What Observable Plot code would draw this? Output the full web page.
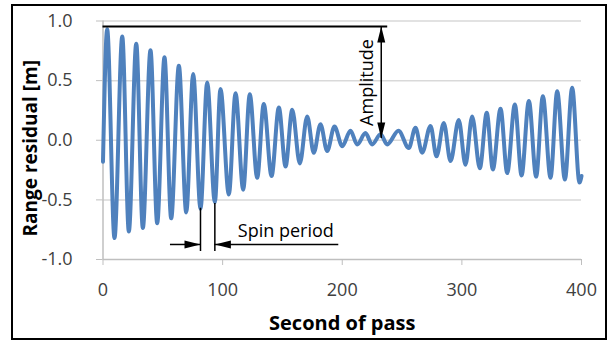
<!DOCTYPE html>
<html><head><meta charset="utf-8">
<script src="https://cdn.jsdelivr.net/npm/d3@7"></script>
<script src="https://cdn.jsdelivr.net/npm/@observablehq/plot@0.6"></script>
<style>
body{margin:0;background:#fff;}
#wrap{position:relative;width:607px;height:340px;overflow:hidden;}
#frame{position:absolute;left:11px;top:4px;width:596px;height:336px;box-sizing:border-box;border:2px solid #000;pointer-events:none;}
</style></head><body>
<div id="wrap"><div id="chart"></div><div id="frame"></div></div>
<script>
// Range residual extrema (peaks and troughs)
const seconds = [0, 3.5, 9.6, 16.1, 21.6, 27.8, 33.3, 39.7, 45.3, 51.4, 57.0, 63.4, 69.6, 75.4, 81.5, 87.1, 93.5, 98.2, 105.2, 110.8, 117.2, 122.7, 128.9, 134.4, 140.9, 147.0, 152.6, 158.2, 164.5, 170.7, 176.2, 181.8, 187.4, 193.5, 200.0, 206.9, 212.5, 219.4, 225.0, 232.0, 237.6, 247.0, 255.6, 261.2, 266.8, 273.8, 278.8, 284.9, 290.5, 297.4, 303.0, 308.6, 315.0, 320.8, 325.9, 332.3, 337.9, 344.3, 349.9, 356.0, 362.1, 367.7, 374.1, 379.7, 386.1, 392.2, 398.3, 400];
const residual = [-0.18, 0.93, -0.82, 0.87, -0.765, 0.81, -0.735, 0.755, -0.695, 0.695, -0.655, 0.625, -0.605, 0.555, -0.575, 0.485, -0.52, 0.43, -0.455, 0.395, -0.415, 0.385, -0.315, 0.305, -0.30, 0.275, -0.22, 0.255, -0.195, 0.20, -0.105, 0.135, -0.09, 0.115, -0.05, 0.08, -0.035, 0.06, -0.035, 0.05, -0.035, 0.08, -0.065, 0.105, -0.105, 0.12, -0.135, 0.145, -0.175, 0.17, -0.205, 0.20, -0.235, 0.23, -0.245, 0.265, -0.275, 0.30, -0.295, 0.33, -0.305, 0.37, -0.315, 0.41, -0.33, 0.44, -0.355, -0.30];

const xTicks = [0, 100, 200, 300, 400];
const yTicks = [-1.0, -0.5, 0.0, 0.5, 1.0];
const yGrid = [-0.5, 0.0, 0.5, 1.0];

// Annotations (data units)
const amplitudeLevel = 0.954;
const amplitudeLineEnd = 238;
const amplitudeArrowAt = 232.6;
const amplitudeArrowBottom = 0.015;
const spinTroughs = [81.5, 93.5];
const spinTroughValues = [-0.57, -0.53];
const spinLineBottom = -0.933;
const spinArrowLevel = -0.874;
const spinArrowLeftStart = 56.4;
const spinArrowRightEnd = 197.1;
const spinLabelAt = [112.7, -0.764];
const amplitudeLabelAt = [221.1, 0.484];

const data = seconds.map((t, i) => ({t, v: residual[i]}));
const spinLines = spinTroughs.map((t, i) => ({t, top: spinTroughValues[i]}));

function head(dir) {
  const pts = [[0, 0], [4, 16], [-4, 16]];
  const rot = {up: 0, right: 90, down: 180, left: 270}[dir] * Math.PI / 180;
  const c = Math.cos(rot), s = Math.sin(rot);
  const p = pts.map(([x, y]) => [x * c - y * s, x * s + y * c]);
  return {draw(ctx) { ctx.moveTo(...p[0]); ctx.lineTo(...p[1]); ctx.lineTo(...p[2]); ctx.closePath(); }};
}

const font = "'Open Sans', 'Noto Sans', sans-serif";
const chart = Plot.plot({
  width: 607, height: 340,
  marginLeft: 102.5, marginRight: 26, marginTop: 20.5, marginBottom: 81,
  style: {fontFamily: font, background: "transparent"},
  x: {domain: [0, 400]},
  y: {domain: [-1, 1]},
  marks: [
    Plot.gridY(yGrid, {stroke: "#d9d9d9", strokeOpacity: 1, strokeWidth: 1.5}),
    Plot.ruleX([0], {stroke: "#bfbfbf", strokeWidth: 1.5}),
    Plot.ruleY([-1], {stroke: "#bfbfbf", strokeWidth: 1.5}),
    Plot.axisY(yTicks, {tickSize: 6.5, tickPadding: 24, stroke: "#bfbfbf", fill: "#404040", fontSize: 18, label: null, tickFormat: d => d.toFixed(1)}),
    Plot.axisX(xTicks, {tickSize: 6, tickPadding: 18, stroke: "#bfbfbf", fill: "#404040", fontSize: 18, label: null}),
    Plot.line(data, {x: "t", y: "v", stroke: "#4f81bd", strokeWidth: 4, curve: "monotone-x"}),
    // amplitude annotation
    Plot.ruleY([amplitudeLevel], {x1: 0, x2: amplitudeLineEnd, stroke: "#000", strokeWidth: 2}),
    Plot.ruleX([amplitudeArrowAt], {y1: amplitudeArrowBottom, y2: amplitudeLevel, stroke: "#000", strokeWidth: 1.5}),
    Plot.dot([[amplitudeArrowAt, amplitudeLevel]], {x: d => d[0], y: d => d[1], symbol: head("up"), fill: "#000", stroke: null}),
    Plot.dot([[amplitudeArrowAt, amplitudeArrowBottom]], {x: d => d[0], y: d => d[1], symbol: head("down"), fill: "#000", stroke: null}),
    Plot.text(["Amplitude"], {x: amplitudeLabelAt[0], y: amplitudeLabelAt[1], rotate: -90, fontSize: 18, fill: "#000"}),
    // spin period annotation
    Plot.ruleX(spinLines, {x: "t", y1: "top", y2: spinLineBottom, stroke: "#000", strokeWidth: 1.5}),
    Plot.ruleY([spinArrowLevel], {x1: spinArrowLeftStart, x2: spinTroughs[0], stroke: "#000", strokeWidth: 1.5}),
    Plot.ruleY([spinArrowLevel], {x1: spinTroughs[1], x2: spinArrowRightEnd, stroke: "#000", strokeWidth: 1.5}),
    Plot.dot([[spinTroughs[0], spinArrowLevel]], {x: d => d[0], y: d => d[1], symbol: head("right"), fill: "#000", stroke: null}),
    Plot.dot([[spinTroughs[1], spinArrowLevel]], {x: d => d[0], y: d => d[1], symbol: head("left"), fill: "#000", stroke: null}),
    Plot.text(["Spin period"], {x: spinLabelAt[0], y: spinLabelAt[1], textAnchor: "start", fontSize: 18, fill: "#000"}),
    // axis titles
    Plot.text(["Range residual [m]"], {frameAnchor: "left", textAnchor: "middle", lineAnchor: "middle", dx: -72, dy: 8, rotate: -90, fontSize: 19, fontWeight: "bold", fill: "#000"}),
    Plot.text(["Second of pass"], {frameAnchor: "bottom", textAnchor: "middle", lineAnchor: "middle", dy: 64.5, fontSize: 20, fontWeight: "bold", fill: "#000"})
  ]
});
document.getElementById("chart").appendChild(chart);
</script>
</body></html>
